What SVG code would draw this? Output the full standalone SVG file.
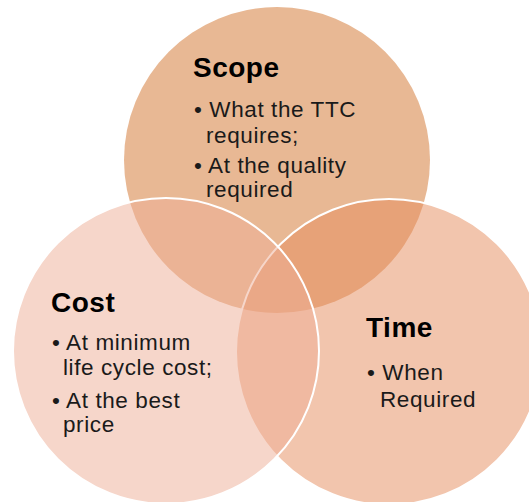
<svg xmlns="http://www.w3.org/2000/svg" width="529" height="502" viewBox="0 0 529 502">
<style>
.c{stroke:#ffffff;stroke-width:2}
.h{font-family:"Liberation Sans",Arial,sans-serif;font-weight:bold;font-size:28px;letter-spacing:0.5px;fill:#000}
.t{font-family:"Liberation Sans",Arial,sans-serif;font-size:22.5px;letter-spacing:0.6px;fill:#1a1a1a}
</style>
<rect width="529" height="502" fill="#ffffff"/>
<g id="scope">
<circle cx="277" cy="160" r="153" fill="#E8B894"/>
</g>
<g id="time">
<circle class="c" cx="389" cy="352" r="153" fill="#E58B5B" fill-opacity="0.5"/>
</g>
<g id="cost">
<circle class="c" cx="166" cy="351" r="153" fill="#EDAD95" fill-opacity="0.5"/>
</g>
<g id="scope-text">
<text class="h" x="193" y="77">Scope</text>
<text class="t" x="194" y="117">• What the TTC</text>
<text class="t" x="206" y="143">requires;</text>
<text class="t" x="194" y="173">• At the quality</text>
<text class="t" x="206" y="197">required</text>
</g>
<g id="cost-text">
<text class="h" x="51" y="312">Cost</text>
<text class="t" x="52" y="350">• At minimum</text>
<text class="t" x="63" y="375">life cycle cost;</text>
<text class="t" x="52" y="408">• At the best</text>
<text class="t" x="63" y="432">price</text>
</g>
<g id="time-text">
<text class="h" x="366" y="337">Time</text>
<text class="t" x="367" y="380">• When</text>
<text class="t" x="380" y="407">Required</text>
</g>
<g id="connectors"></g>
</svg>
